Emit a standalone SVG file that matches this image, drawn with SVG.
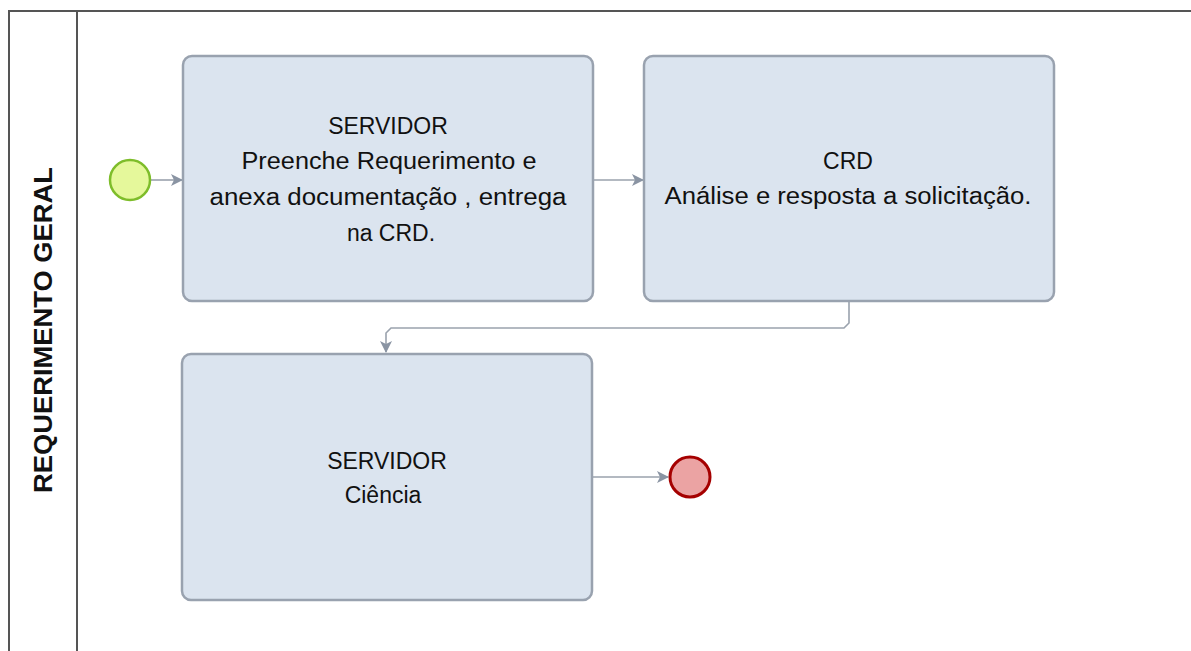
<svg xmlns="http://www.w3.org/2000/svg" width="1191" height="651" viewBox="0 0 1191 651">
<defs>
<style>
.pool{fill:none;stroke:#555;stroke-width:2}
.task{fill:#dbe4ef;stroke:#99a2af;stroke-width:2.5}
.t{font-family:"Liberation Sans",Arial,sans-serif;font-size:23px;fill:#111;text-anchor:middle}
.lbl{font-family:"Liberation Sans",Arial,sans-serif;font-size:25px;font-weight:bold;fill:#111;text-anchor:middle}
.conn{fill:none;stroke:#9aa2ad;stroke-width:1.6}
</style>
<marker id="arr" viewBox="0 0 12 12" refX="11" refY="6" markerWidth="12" markerHeight="12" markerUnits="userSpaceOnUse" orient="auto">
<path d="M0,0 L12,6 L0,12 L3,6 Z" fill="#8a94a3"/>
</marker>
</defs>
<rect width="1191" height="651" fill="#fff"/>
<g id="pool">
<path class="pool" d="M9,651 V11 H1191 M77,11 V651"/>
<text class="lbl" transform="translate(52,330) rotate(-90)" textLength="326" lengthAdjust="spacingAndGlyphs">REQUERIMENTO GERAL</text>
</g>
<g id="connectors">
<path class="conn" d="M151,180 H182" marker-end="url(#arr)"/>
<path class="conn" d="M594,180 H643" marker-end="url(#arr)"/>
<path class="conn" d="M849,302 V323 L844,328 H391 L386,333 V352" marker-end="url(#arr)"/>
<path class="conn" d="M593,477 H668" marker-end="url(#arr)"/>
</g>
<g id="start">
<circle cx="130" cy="180" r="20" fill="#e5f89b" stroke="#7ebd2a" stroke-width="2.5"/>
</g>
<g id="task1">
<rect class="task" x="183" y="56" width="410" height="245" rx="9"/>
<text class="t" x="388" y="134">SERVIDOR</text>
<text class="t" x="389" y="169" textLength="295" lengthAdjust="spacingAndGlyphs">Preenche Requerimento e</text>
<text class="t" x="388" y="205" textLength="357" lengthAdjust="spacingAndGlyphs">anexa documentação , entrega</text>
<text class="t" x="391" y="241">na CRD.</text>
</g>
<g id="task2">
<rect class="task" x="644" y="56" width="410" height="245" rx="9"/>
<text class="t" x="848" y="169">CRD</text>
<text class="t" x="848" y="204" textLength="367" lengthAdjust="spacingAndGlyphs">Análise e resposta a solicitação.</text>
</g>
<g id="task3">
<rect class="task" x="182" y="354" width="410" height="246" rx="9"/>
<text class="t" x="387" y="469">SERVIDOR</text>
<text class="t" x="383" y="503">Ciência</text>
</g>
<g id="end">
<circle cx="690" cy="477" r="20" fill="#eba3a3" stroke="#a50000" stroke-width="3"/>
</g>
</svg>
